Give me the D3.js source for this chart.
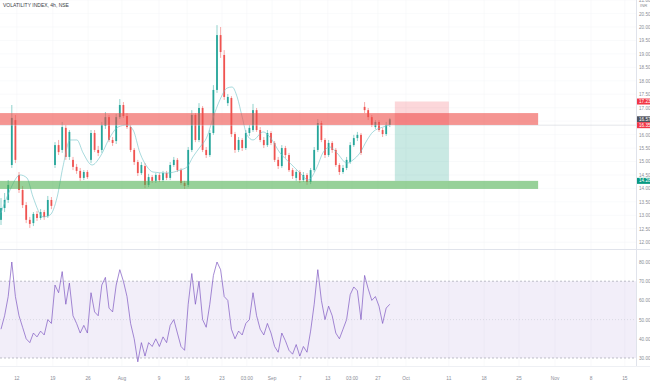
<!DOCTYPE html>
<html>
<head>
<meta charset="utf-8">
<script src="https://cdn.jsdelivr.net/npm/d3@7"></script>
<style>
  body { margin: 0; background: #ffffff; }
  text { font-family: "Liberation Sans", Arial, sans-serif; }
</style>
</head>
<body>
<div id="chart"></div>
<script>
// Step 1: data
//= ================================
var opens = [12.83, 13.27, 13.57, 14.87, 16.54, 14.50, 13.94, 13.38, 12.83, 12.71,
  13.05, 12.90, 13.12, 12.97, 13.57, 14.87, 15.61, 15.43, 16.25, 15.17,
  15.06, 14.80, 14.65, 14.39, 14.61, 15.06, 16.06, 15.43, 15.43, 16.32,
  16.65, 15.80, 15.76, 16.65, 17.10, 16.69, 16.28, 15.43, 14.98, 14.57,
  14.83, 14.13, 14.42, 14.28, 14.50, 14.31, 14.57, 14.39, 14.87, 15.06,
  14.68, 14.20, 14.13, 15.43, 16.73, 15.80, 16.99, 15.43, 15.24, 16.06,
  17.66, 19.70, 18.96, 17.17, 17.36, 16.02, 15.43, 15.80, 15.50, 16.06,
  16.17, 16.91, 16.17, 15.80, 15.61, 16.06, 15.69, 15.06, 14.83, 15.50,
  15.24, 14.68, 14.39, 14.61, 14.31, 14.50, 14.24, 14.68, 15.43, 16.43,
  15.80, 15.24, 15.69, 15.43, 14.87, 14.61, 14.76, 14.98, 15.61, 15.87,
  15.99, 17.03, 16.91, 16.65, 16.28, 16.47, 16.17, 16.02, 16.36];
var highs = [13.64, 13.83, 14.31, 17.10, 16.73, 14.61, 14.09, 13.49, 12.94, 13.12,
  13.16, 13.23, 13.20, 13.72, 13.68, 15.72, 15.80, 16.47, 16.36, 16.17,
  15.17, 14.91, 14.76, 14.68, 14.68, 16.17, 16.17, 15.58, 16.47, 16.84,
  16.73, 15.91, 16.77, 17.32, 17.21, 16.80, 16.36, 15.50, 15.06, 14.98,
  14.94, 14.54, 14.50, 14.57, 14.57, 14.65, 14.65, 14.98, 15.17, 15.13,
  14.76, 14.28, 15.54, 16.91, 16.80, 17.17, 17.06, 15.54, 16.17, 17.84,
  20.07, 20.00, 19.14, 17.51, 17.43, 16.10, 15.91, 15.87, 16.17, 16.36,
  17.14, 16.99, 16.28, 15.91, 16.17, 16.13, 15.76, 15.17, 15.61, 15.58,
  15.32, 14.76, 14.68, 14.68, 14.61, 14.57, 14.76, 15.54, 16.58, 16.51,
  15.87, 15.80, 15.76, 15.50, 14.94, 14.87, 15.17, 15.72, 15.99, 16.10,
  16.06, 17.21, 16.99, 16.73, 16.54, 16.54, 16.25, 16.47, 16.62];
var lows = [12.64, 13.12, 13.46, 14.76, 14.94, 13.83, 13.27, 12.71, 12.53, 12.60,
  12.79, 12.83, 12.83, 12.90, 13.23, 14.76, 15.24, 15.32, 15.06, 15.06,
  14.68, 14.54, 14.28, 14.31, 14.35, 14.94, 15.35, 15.20, 15.32, 16.21,
  15.72, 15.58, 15.65, 16.58, 16.62, 16.21, 15.35, 14.87, 14.46, 14.50,
  14.01, 14.05, 14.20, 14.20, 14.24, 14.24, 14.31, 14.31, 14.80, 14.61,
  14.13, 13.98, 14.05, 15.35, 15.72, 15.72, 15.35, 15.13, 15.17, 15.99,
  17.55, 18.85, 17.29, 17.06, 15.91, 15.32, 15.35, 15.39, 15.43, 15.95,
  16.10, 16.10, 15.72, 15.50, 15.54, 15.61, 14.98, 14.72, 14.76, 15.13,
  14.61, 14.35, 14.28, 14.20, 14.24, 14.13, 14.16, 14.61, 15.35, 15.72,
  15.13, 15.17, 15.32, 14.80, 14.50, 14.54, 14.68, 14.91, 15.54, 15.76,
  15.24, 16.80, 16.54, 16.28, 16.21, 16.10, 15.91, 15.95, 16.28];
var closes = [13.27, 13.57, 14.13, 16.62, 15.06, 13.94, 13.38, 12.83, 12.68, 13.05,
  12.90, 13.12, 12.94, 13.57, 13.35, 15.61, 15.35, 16.28, 15.17, 16.10,
  14.80, 14.65, 14.39, 14.61, 14.42, 16.06, 15.43, 15.32, 16.36, 16.65,
  15.80, 15.69, 16.65, 17.10, 16.69, 16.28, 15.43, 14.98, 14.57, 14.87,
  14.13, 14.42, 14.28, 14.50, 14.31, 14.57, 14.39, 14.87, 15.06, 14.68,
  14.20, 14.09, 15.43, 16.73, 15.80, 16.99, 15.43, 15.24, 16.06, 17.66,
  19.70, 19.07, 17.40, 17.40, 16.02, 15.43, 15.80, 15.50, 16.06, 16.25,
  16.91, 16.17, 15.80, 15.61, 16.06, 15.69, 15.06, 14.83, 15.50, 15.24,
  14.68, 14.46, 14.61, 14.31, 14.50, 14.24, 14.68, 15.43, 16.43, 15.80,
  15.24, 15.69, 15.43, 14.87, 14.61, 14.76, 15.06, 15.61, 15.87, 15.99,
  15.32, 16.91, 16.65, 16.36, 16.47, 16.17, 16.02, 16.36, 16.57];

// moving average, read at a few bar positions
var maIndex = [0, 2.5, 5.3, 7.2, 8.9, 11.7, 13.6, 15.6, 17.2, 19.2, 21.1, 22.8, 25.3, 27.5,
  30.3, 32.5, 35, 36.7, 38.6, 40.6, 42.2, 46.1, 49.7, 51.7, 53.3, 55.3, 57.2, 58.9, 60.8,
  62.8, 64.2, 65.6, 67, 68.3, 70, 72.8, 74.7, 77.5, 80.3, 83.1, 85.3, 87.8, 89.4, 91.4,
  93.3, 96.1, 97.8, 99.7, 101.7, 103.3, 106.1, 108];
var maValues = [13.09, 13.94, 14.50, 14.39, 13.68, 12.94, 13.01, 13.68, 14.80, 15.80, 15.80,
  15.32, 14.87, 15.17, 15.91, 16.28, 16.36, 16.17, 15.32, 14.80, 14.61, 14.57, 14.68,
  14.80, 15.17, 15.54, 15.91, 16.62, 17.29, 17.73, 17.77, 17.40, 16.65, 15.99, 15.80,
  16.10, 15.91, 15.32, 14.94, 14.57, 14.31, 14.80, 15.32, 15.54, 15.32, 14.94, 15.06,
  15.32, 15.80, 16.10, 16.28, 16.36];

var rsiValues = [45, 52, 62, 80, 62, 52, 46, 40, 38, 43,
  41, 44, 42, 50, 48, 68, 64, 75, 58, 69,
  52, 48, 43, 47, 43, 64, 54, 52, 68, 72,
  56, 54, 68, 76, 70, 62, 48, 40, 28, 38,
  31, 38, 36, 40, 36, 41, 38, 47, 50, 43,
  36, 34, 58, 74, 58, 70, 50, 46, 58, 73,
  80, 76, 62, 60, 45, 40, 44, 42, 48, 50,
  64, 52, 45, 42, 48, 43, 36, 33, 43, 39,
  34, 32, 37, 31, 36, 33, 44, 58, 76, 60,
  50, 57, 52, 43, 40, 45, 50, 63, 67, 65,
  50, 73, 66, 60, 62, 57, 48, 56, 58];

var timeLabels = ["12", "19", "26", "Aug", "9", "16", "23", "03:00", "Sep", "7",
  "13", "03:00", "27", "Oct", "11", "18", "25", "Nov", "8", "15"];
var timeIndex = [4.4, 14.4, 24.2, 33.6, 43.9, 51.7, 61.4, 68.3, 75.3, 83.1,
  90.8, 97.5, 104.7, 112.5, 124.4, 134.2, 143.9, 153.9, 163.9, 173.3];

var priceTicks = [12, 12.5, 13, 13.5, 14, 14.5, 15, 15.5, 16, 16.5, 17, 17.5, 18, 18.5, 19, 19.5, 20, 20.5, 21];
var rsiTicks = [30, 40, 50, 60, 70, 80];

var resistanceZone = [16.36, 16.80];
var supportZone = [13.98, 14.28];
var zoneEnd = 149.2;
var positionStart = 109.4;
var positionEnd = 124.4;
var stopPrice = 17.23;
var entryPrice = 16.35;
var targetPrice = 14.28;

// Step 2: set up the chart
//= ================================
var svgWidth = 650;
var svgHeight = 384;
var plotRight = 636;

var svg = d3.select("#chart").append("svg")
  .attr("width", svgWidth)
  .attr("height", svgHeight);

var x = d3.scaleLinear().domain([0, 176]).range([1, 1 + 176 * 3.6]);
var y = d3.scaleLinear().domain([12, 20]).range([242.2, 27]);
var yRsi = d3.scaleLinear().domain([30, 70]).range([358, 281.2]);

var green = "#26a69a";
var red = "#ef5350";
var gray = "#8a8d96";

// grid
svg.append("g").selectAll("line")
  .data(priceTicks)
  .enter()
  .append("line")
  .attr("x1", 0).attr("x2", plotRight)
  .attr("y1", d => y(d)).attr("y2", d => y(d))
  .attr("stroke", "#f5f6f9").attr("stroke-width", 0.6);

svg.append("g").selectAll("line")
  .data(timeIndex)
  .enter()
  .append("line")
  .attr("x1", d => x(d)).attr("x2", d => x(d))
  .attr("y1", 0).attr("y2", 366)
  .attr("stroke", "#f5f6f9").attr("stroke-width", 0.6);

// Step 3: candles and average
//= ================================
var candles = svg.append("g").selectAll("g")
  .data(closes)
  .enter()
  .append("g");

candles.append("line")
  .attr("x1", (d, i) => x(i)).attr("x2", (d, i) => x(i))
  .attr("y1", (d, i) => y(highs[i]))
  .attr("y2", (d, i) => y(lows[i]))
  .attr("stroke", (d, i) => d >= opens[i] ? green : red)
  .attr("stroke-width", 0.5);

candles.append("rect")
  .attr("x", (d, i) => x(i) - 0.9)
  .attr("width", 1.8)
  .attr("y", (d, i) => y(Math.max(d, opens[i])))
  .attr("height", (d, i) => Math.max(0.7, Math.abs(y(d) - y(opens[i]))))
  .attr("fill", (d, i) => d >= opens[i] ? green : red);

var maLine = d3.line()
  .x((d, i) => x(maIndex[i]))
  .y(d => y(d))
  .curve(d3.curveMonotoneX);

svg.append("path")
  .attr("d", maLine(maValues))
  .attr("fill", "none")
  .attr("stroke", "#6cc0c6")
  .attr("stroke-width", 0.7)
  .attr("opacity", 0.85);

// Step 4: drawings
//= ================================
svg.append("line")
  .attr("x1", 0).attr("x2", plotRight)
  .attr("y1", y(entryPrice)).attr("y2", y(entryPrice))
  .attr("stroke", "#c9ccd4").attr("stroke-width", 0.5);

svg.append("rect")
  .attr("x", x(0) - 1).attr("width", x(zoneEnd) - x(0) + 1)
  .attr("y", y(resistanceZone[1]))
  .attr("height", y(resistanceZone[0]) - y(resistanceZone[1]))
  .attr("fill", "#ef4f4a").attr("opacity", 0.6);

svg.append("rect")
  .attr("x", x(0) - 1).attr("width", x(zoneEnd) - x(0) + 1)
  .attr("y", y(supportZone[1]))
  .attr("height", y(supportZone[0]) - y(supportZone[1]))
  .attr("fill", "#4caf50").attr("opacity", 0.58);

svg.append("rect")
  .attr("x", x(positionStart)).attr("width", x(positionEnd) - x(positionStart))
  .attr("y", y(stopPrice)).attr("height", y(entryPrice) - y(stopPrice))
  .attr("fill", "#f23645").attr("opacity", 0.2);

svg.append("rect")
  .attr("x", x(positionStart)).attr("width", x(positionEnd) - x(positionStart))
  .attr("y", y(entryPrice)).attr("height", y(targetPrice) - y(entryPrice))
  .attr("fill", "#089981").attr("opacity", 0.22);

// Step 5: RSI pane
//= ================================
svg.append("line")
  .attr("x1", 0).attr("x2", svgWidth)
  .attr("y1", 249.5).attr("y2", 249.5)
  .attr("stroke", "#e0e3eb").attr("stroke-width", 1);

svg.append("rect")
  .attr("x", 0).attr("width", plotRight)
  .attr("y", yRsi(70)).attr("height", yRsi(30) - yRsi(70))
  .attr("fill", "#7e57c2").attr("opacity", 0.1);

svg.append("g").selectAll("line")
  .data([70, 30])
  .enter()
  .append("line")
  .attr("x1", 0).attr("x2", plotRight)
  .attr("y1", d => yRsi(d)).attr("y2", d => yRsi(d))
  .attr("stroke", "#9598a1").attr("stroke-width", 0.6)
  .attr("stroke-dasharray", "2,2");

svg.append("line")
  .attr("x1", 0).attr("x2", plotRight)
  .attr("y1", yRsi(50)).attr("y2", yRsi(50))
  .attr("stroke", "#c4c6ce").attr("stroke-width", 0.5)
  .attr("stroke-dasharray", "1,2");

var rsiLine = d3.line()
  .x((d, i) => x(i))
  .y(d => yRsi(d));

svg.append("path")
  .attr("d", rsiLine(rsiValues))
  .attr("fill", "none")
  .attr("stroke", "#7e57c2")
  .attr("stroke-width", 0.7);

// Step 6: axes and labels
//= ================================
svg.append("line")
  .attr("x1", plotRight + 0.5).attr("x2", plotRight + 0.5)
  .attr("y1", 0).attr("y2", 366)
  .attr("stroke", "#e0e3eb");

svg.append("line")
  .attr("x1", 0).attr("x2", svgWidth)
  .attr("y1", 366.5).attr("y2", 366.5)
  .attr("stroke", "#eef0f4");

// price labels on the axis
var priceTags = [
  { v: stopPrice, c: "#f23645" },
  { v: closes[closes.length - 1], c: "#50535e" },
  { v: entryPrice, c: "#f23645" },
  { v: targetPrice, c: "#089981" }
];

// hide the price ticks that a tag covers
var labelTicks = priceTicks.filter(function (t) {
  return priceTags.every(function (p) { return Math.abs(y(t) - y(p.v)) > 4.5; });
});

var priceAxis = svg.append("g")
  .attr("transform", "translate(" + (plotRight + 1) + ",0)")
  .call(d3.axisRight(y).tickValues(labelTicks).tickSize(0).tickPadding(2).tickFormat(d3.format(".2f")));
priceAxis.select(".domain").remove();

var rsiAxis = svg.append("g")
  .attr("transform", "translate(" + (plotRight + 1) + ",0)")
  .call(d3.axisRight(yRsi).tickValues(rsiTicks).tickSize(0).tickPadding(2).tickFormat(d3.format(".2f")));
rsiAxis.select(".domain").remove();

svg.selectAll(".tick text")
  .attr("font-size", "4.6px")
  .attr("fill", gray);

svg.append("g").selectAll("text")
  .data(timeLabels)
  .enter()
  .append("text")
  .text(d => d)
  .attr("x", (d, i) => x(timeIndex[i]))
  .attr("y", 380)
  .attr("text-anchor", "middle")
  .attr("font-size", "4.8px")
  .attr("fill", gray);

var tags = svg.append("g").selectAll("g")
  .data(priceTags)
  .enter()
  .append("g");

tags.append("rect")
  .attr("x", plotRight + 1)
  .attr("y", d => y(d.v) - 3)
  .attr("width", 13)
  .attr("height", 6)
  .attr("fill", d => d.c);

tags.append("text")
  .text(d => d.v.toFixed(2))
  .attr("x", plotRight + 3)
  .attr("y", d => y(d.v))
  .attr("dy", "0.35em")
  .attr("font-size", "4.6px")
  .attr("fill", "#ffffff");

svg.append("text")
  .text("INR")
  .attr("x", plotRight + 4)
  .attr("y", 7)
  .attr("font-size", "4.2px")
  .attr("fill", gray);

svg.append("text")
  .text("VOLATILITY INDEX, 4h, NSE")
  .attr("x", 3)
  .attr("y", 7)
  .attr("font-size", "5px")
  .attr("fill", "#3a3d46");
</script>
</body>
</html>
